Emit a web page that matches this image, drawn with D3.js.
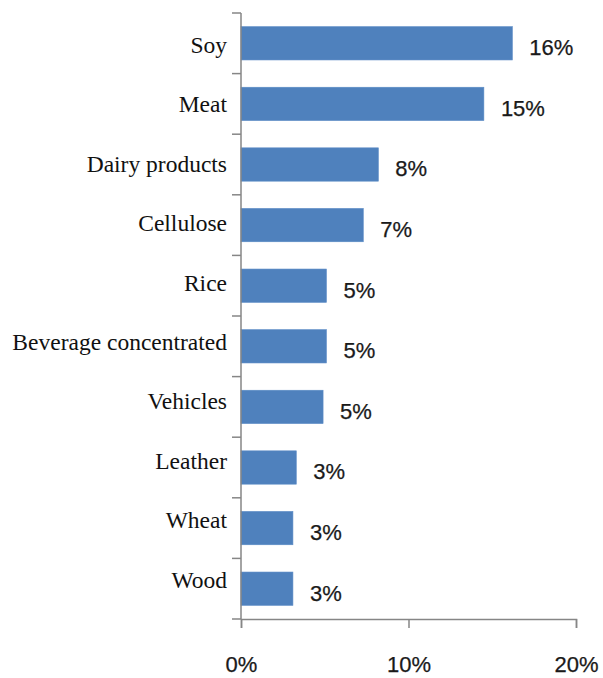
<!DOCTYPE html>
<html>
<head>
<meta charset="utf-8">
<script src="https://cdn.jsdelivr.net/npm/d3@7"></script>
<style>
  html, body { margin: 0; padding: 0; background: #fff; }
  svg { display: block; }
</style>
</head>
<body>
<svg id="chart" width="603" height="678"></svg>
<script>
// Share of each product group (percent)
const categories = ["Soy", "Meat", "Dairy products", "Cellulose", "Rice",
  "Beverage concentrated", "Vehicles", "Leather", "Wheat", "Wood"];
const shares = [16.2, 14.5, 8.2, 7.3, 5.1, 5.1, 4.9, 3.3, 3.1, 3.1];
const xTicks = [0, 10, 20];

const svg = d3.select("#chart");
const margin = { left: 241, right: 27, top: 13, bottom: 59 };
const W = 603, H = 678;
const innerW = W - margin.left - margin.right;
const innerH = H - margin.top - margin.bottom;

const x = d3.scaleLinear().domain([0, 20]).range([0, innerW]);
const y = d3.scaleBand().domain(categories).range([0, innerH])
  .paddingInner(0.45).paddingOuter(0.225);
const band = innerH / categories.length;
// category text sits on a slightly tighter grid than the bands
const yLabel = d3.scalePoint().domain(categories).range([32, 567]);

const g = svg.append("g").attr("transform", `translate(${margin.left},${margin.top})`);
const axisColor = "#868686";

// Bars
g.selectAll("rect.bar").data(categories).join("rect")
  .attr("class", "bar")
  .attr("x", 0)
  .attr("y", d => y(d))
  .attr("width", (d, i) => x(shares[i]))
  .attr("height", y.bandwidth())
  .attr("fill", "#4f81bd")
  .attr("stroke", "#5b8bc6")
  .attr("stroke-width", 0.6);

// Value labels
const fmt = v => d3.format(".0f")(v) + "%";
g.selectAll("text.val").data(categories).join("text")
  .attr("class", "val")
  .attr("x", (d, i) => x(shares[i]) + 17)
  .attr("y", d => y(d) + y.bandwidth() / 2 + 4)
  .attr("dy", "0.36em")
  .attr("font-family", "Liberation Sans, Arial, sans-serif")
  .attr("font-size", 22)
  .attr("fill", "#1a1a1a")
  .attr("stroke", "#1a1a1a")
  .attr("stroke-width", 0.25)
  .text((d, i) => fmt(shares[i]));

// Y axis: line with ticks at band boundaries
g.append("line").attr("x1", 0).attr("x2", 0).attr("y1", 0).attr("y2", innerH)
  .attr("stroke", axisColor).attr("stroke-width", 1.5);
g.selectAll("line.ytick").data(d3.range(categories.length + 1)).join("line")
  .attr("class", "ytick")
  .attr("x1", -9).attr("x2", 0)
  .attr("y1", i => i * band).attr("y2", i => i * band)
  .attr("stroke", axisColor).attr("stroke-width", 1.5);

// Category labels
g.selectAll("text.cat").data(categories).join("text")
  .attr("class", "cat")
  .attr("x", -14)
  .attr("y", d => yLabel(d))
  .attr("dy", "0.33em")
  .attr("text-anchor", "end")
  .attr("font-family", "Liberation Serif, Times New Roman, serif")
  .attr("font-size", 23.5)
  .attr("fill", "#111")
  .text(d => d);

// X axis
const xAxis = d3.axisBottom(x).tickValues(xTicks).tickFormat(d => d + "%")
  .tickSize(9).tickPadding(28);
const xg = g.append("g").attr("transform", `translate(0,${innerH})`).call(xAxis);
xg.select(".domain").attr("stroke", axisColor).attr("stroke-width", 1.5);
xg.selectAll(".tick line").attr("stroke", axisColor).attr("stroke-width", 1.5);
xg.selectAll(".tick text")
  .attr("font-family", "Liberation Sans, Arial, sans-serif")
  .attr("font-size", 22)
  .attr("fill", "#1a1a1a")
  .attr("stroke", "#1a1a1a")
  .attr("stroke-width", 0.25);
</script>
</body>
</html>
